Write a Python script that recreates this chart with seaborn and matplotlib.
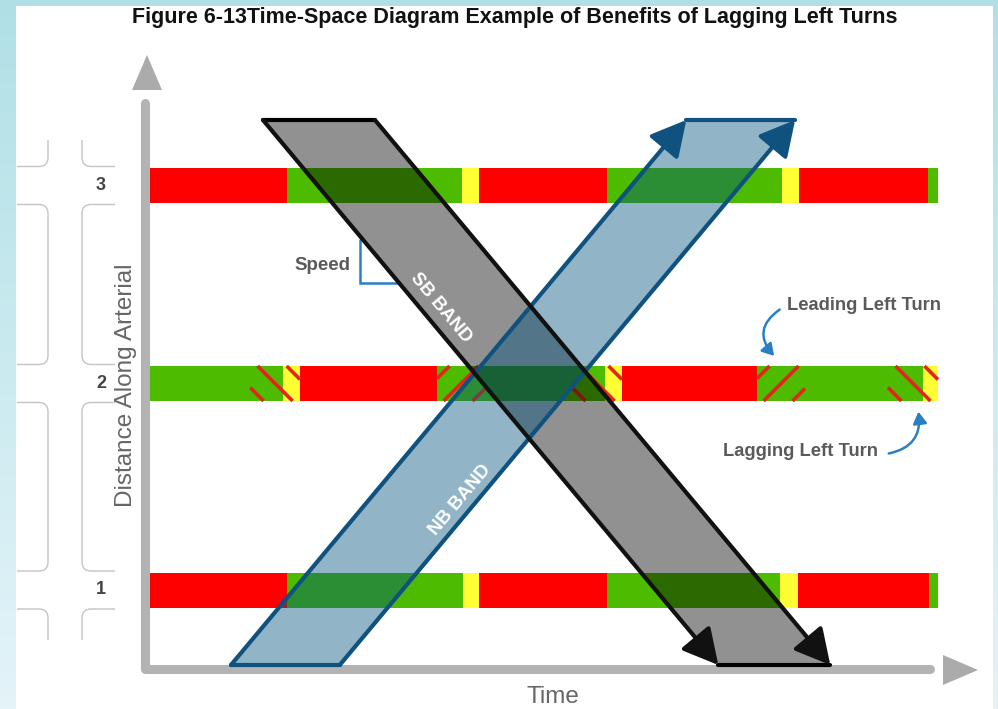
import numpy as np
import matplotlib.pyplot as plt
import seaborn as sns
from matplotlib.patches import Polygon, Rectangle, FancyArrowPatch, PathPatch
from matplotlib.path import Path
from matplotlib.collections import LineCollection

# ---- data ---------------------------------------------------------------
# three signals on a 100 s cycle, phase end times in seconds
intersection_names = ["1", "2", "3"]
intersection_dist = [75, 281.5, 479.5]   # distance along the arterial

states_1 = ["red", "green", "yellow", "red", "green", "yellow", "red", "green"]
ends_1 = [42.8, 97.8, 102.8, 142.8, 196.9, 202.5, 243.4, 246.25]
states_2 = ["green", "yellow", "red", "green", "yellow", "red", "green", "yellow"]
ends_2 = [41.6, 46.9, 89.7, 142.2, 147.5, 189.7, 241.6, 246.25]
states_3 = ["red", "green", "yellow", "red", "green", "yellow", "red", "green"]
ends_3 = [42.8, 97.5, 102.8, 142.8, 197.5, 202.8, 243.1, 246.25]

# protected left turn intervals at intersection 2
lead_start = [89.7, 189.7]
lead_end = [104.7, 204.7]
lag_start = [31.3, 131.9, 230.6]
lag_end = [46.9, 147.5, 246.25]

# progression bands
band_speed = 3.83          # distance per second
band_top = 545
sb_start, sb_width = 35.3, 35.0   # southbound enters at the top
nb_start, nb_width = 25.3, 34.0   # northbound enters at the bottom

# ---- layout ---------------------------------------------------------------
W, H = 998, 709
PX_PER_S = 3.2
X0, Y0 = 150, 665
BAR_H = 35


def tx(px):
    return (px - X0) / PX_PER_S


def dy(py):
    return Y0 - py


def clip_segment(p, q, a, b):
    """Cut a line segment to the time window [a, b]"""
    (t1, d1), (t2, d2) = sorted([p, q])
    lo, hi = max(t1, a), min(t2, b)
    if hi <= lo:
        return None
    f = lambda t: d1 + (d2 - d1) * (t - t1) / (t2 - t1)
    return [(lo, f(lo)), (hi, f(hi))]


RED, GREEN, YELLOW = "#ff0000", "#4dbb00", "#ffff33"
state_color = {"red": RED, "green": GREEN, "yellow": YELLOW}
AXIS_GRAY = "#b3b3b3"
TEXT_GRAY = "#5a5a5a"
NB_EDGE = "#0f5280"
LABEL_BLUE = "#2a7fc4"

sns.set_theme(style="white")
plt.rcParams["font.family"] = ["Liberation Sans", "DejaVu Sans"]

fig = plt.figure(figsize=(W / 100, H / 100), dpi=100)

# light blue frame
bg = fig.add_axes([0, 0, 1, 1])
top_c = np.array([176, 224, 230]) / 255
bot_c = np.array([228, 244, 249]) / 255
grad = np.linspace(0, 1, 256)[:, None, None] * (bot_c - top_c) + top_c
bg.imshow(np.repeat(grad, 2, axis=1), aspect="auto", extent=[0, 1, 0, 1])
bg.add_patch(Rectangle((16 / W, 0), (993 - 16) / W, (H - 6) / H,
                       transform=bg.transAxes, facecolor="white", edgecolor="none"))
bg.set_xlim(0, 1)
bg.set_ylim(0, 1)
bg.axis("off")

ax = fig.add_axes([0, 0, 1, 1])
ax.set_facecolor("none")
ax.set_xlim(tx(0), tx(W))
ax.set_ylim(dy(H), dy(0))
ax.axis("off")

# ---- signal bars ------------------------------------------------------------
for d, states, ends in zip(intersection_dist, [states_1, states_2, states_3],
                           [ends_1, ends_2, ends_3]):
    starts = [0] + ends[:-1]
    ax.broken_barh([(s, e - s) for s, e in zip(starts, ends)], (d - BAR_H / 2, BAR_H),
                   facecolors=[state_color[s] for s in states], edgecolor="none",
                   antialiased=False, zorder=2)

# left turn hatching at intersection 2 ('/' leading, '\' lagging)
d2 = intersection_dist[1]
spacing = 29 / PX_PER_S
half_dx = BAR_H / 2 / PX_PER_S
turns = [(a, b, 1) for a, b in zip(lead_start, lead_end)] + \
        [(a, b, -1) for a, b in zip(lag_start, lag_end)]
segs = []
for a, b, sgn in turns:
    c = (a + b) / 2
    for k in (-1, 0, 1):
        ct = c + k * spacing
        seg = clip_segment((ct - sgn * half_dx, d2 - BAR_H / 2),
                           (ct + sgn * half_dx, d2 + BAR_H / 2), a, b)
        if seg:
            segs.append(seg)
ax.add_collection(LineCollection(segs, colors="#e3261c", linewidths=2.6,
                                 capstyle="butt", zorder=3))

# ---- bands ------------------------------------------------------------------
travel = band_top / band_speed
sb = [(sb_start, band_top), (sb_start + sb_width, band_top),
      (sb_start + sb_width + travel, 0), (sb_start + travel, 0)]
nb = [(nb_start, 0), (nb_start + nb_width, 0),
      (nb_start + nb_width + travel, band_top), (nb_start + travel, band_top)]

ax.add_patch(Polygon(sb, closed=True, facecolor="black", alpha=0.43,
                     edgecolor="none", zorder=4))
ax.add_patch(Polygon(nb, closed=True, facecolor=(0, 83 / 255, 125 / 255), alpha=0.43,
                     edgecolor="none", zorder=5))

head = "-|>,head_length=0.45,head_width=0.24"
# NB outline
ax.plot([nb[0][0], nb[1][0]], [0, 0], color=NB_EDGE, lw=3, solid_capstyle="round", zorder=6)
ax.plot([nb[3][0], nb[2][0]], [band_top, band_top], color=NB_EDGE, lw=3,
        solid_capstyle="round", zorder=6)
for tail, tip in [(nb[0], nb[3]), (nb[1], nb[2])]:
    ax.annotate("", xy=tip, xytext=tail, zorder=6,
                arrowprops=dict(arrowstyle=head, mutation_scale=48, lw=3, color=NB_EDGE,
                                shrinkA=0, shrinkB=0))
# SB outline
ax.plot([sb[0][0], sb[1][0]], [band_top, band_top], color="black", lw=3,
        solid_capstyle="round", zorder=7)
ax.plot([sb[3][0], sb[2][0]], [0, 0], color="black", lw=3, solid_capstyle="round", zorder=7)
for tail, tip in [(sb[0], sb[3]), (sb[1], sb[2])]:
    ax.annotate("", xy=tip, xytext=tail, zorder=7,
                arrowprops=dict(arrowstyle=head, mutation_scale=48, lw=3, color="#111111",
                                shrinkA=0, shrinkB=0))

# speed triangle on the SB band edge
d_hi, d_lo = dy(240), dy(283)
t_hi = sb_start + (band_top - d_hi) / band_speed
t_lo = sb_start + (band_top - d_lo) / band_speed
ax.plot([t_hi - 1, t_hi - 1, t_lo], [d_hi, d_lo, d_lo], color=LABEL_BLUE, lw=1.8,
        solid_joinstyle="miter", zorder=3)

# band labels
ang = np.degrees(np.arctan(band_speed / PX_PER_S))
ax.text(tx(441), dy(308), "SB BAND", rotation=-ang, rotation_mode="anchor",
        ha="center", va="center", color="white", fontsize=13.5, fontweight="bold", zorder=8)
ax.text(tx(460), dy(500), "NB BAND", rotation=ang, rotation_mode="anchor",
        ha="center", va="center", color="white", fontsize=13.5, fontweight="bold", zorder=8)
ax.text(tx(350), dy(265), "Speed", ha="right", va="center", color=TEXT_GRAY,
        fontsize=13.5, fontweight="bold", zorder=8)

# left turn callouts
ax.text(tx(787), dy(306), "Leading Left Turn", ha="left", va="center", color=TEXT_GRAY,
        fontsize=13.2, fontweight="bold", zorder=8)
ax.text(tx(878), dy(451), "Lagging Left Turn", ha="right", va="center", color=TEXT_GRAY,
        fontsize=13.2, fontweight="bold", zorder=8)
ax.add_patch(FancyArrowPatch((tx(782), dy(308)), (tx(776), dy(358)),
                             connectionstyle="arc3,rad=0.6",
                             arrowstyle="-|>,head_length=0.5,head_width=0.3",
                             mutation_scale=14, lw=1.8, color=LABEL_BLUE, zorder=8))
ax.add_patch(FancyArrowPatch((tx(886), dy(454)), (tx(918), dy(409)),
                             connectionstyle="arc3,rad=0.5",
                             arrowstyle="-|>,head_length=0.5,head_width=0.3",
                             mutation_scale=14, lw=1.8, color=LABEL_BLUE, zorder=8))

# ---- axes arrows ---------------------------------------------------------
ax.plot([tx(145), tx(145), tx(930)], [dy(103), dy(669), dy(669)], color=AXIS_GRAY,
        lw=6.5, solid_capstyle="round", solid_joinstyle="round", zorder=1)
ax.add_patch(Polygon([(tx(147), dy(55)), (tx(162), dy(90)), (tx(132), dy(90))],
                     facecolor="#ababab", edgecolor="none", zorder=1))
ax.add_patch(Polygon([(tx(978), dy(670)), (tx(943), dy(655)), (tx(943), dy(685))],
                     facecolor="#ababab", edgecolor="none", zorder=1))

ax.text(tx(553), dy(697), "Time", ha="center", va="center", color="#666666", fontsize=17.5)
ax.text(tx(126), dy(385), "Distance Along Arterial", rotation=90, ha="center", va="center",
        color="#666666", fontsize=17.5)

# cross streets and intersection numbers
gap = 19
r = 9
for name, d in zip(intersection_names, intersection_dist):
    ax.text(tx(101), d, name, ha="center", va="center", color="#444444",
            fontsize=13, fontweight="bold")

gaps_px = sorted([Y0 - d for d in intersection_dist])
edges = [140]
for g in gaps_px:
    edges += [g - gap, g + gap]
edges.append(640)
blocks = list(zip(edges[0::2], edges[1::2]))
for i, (ytop, ybot) in enumerate(blocks):
    for xe, xo in [(48, 17), (82, 115)]:
        s = 1 if xo < xe else -1
        verts, codes = [], []
        if i == 0:
            verts.append((xe, ytop)); codes.append(Path.MOVETO)
        else:
            verts += [(xo, ytop), (xe - s * r, ytop), (xe, ytop), (xe, ytop + r)]
            codes += [Path.MOVETO, Path.LINETO, Path.CURVE3, Path.CURVE3]
        if i == len(blocks) - 1:
            verts.append((xe, ybot)); codes.append(Path.LINETO)
        else:
            verts += [(xe, ybot - r), (xe, ybot), (xe - s * r, ybot), (xo, ybot)]
            codes += [Path.LINETO, Path.CURVE3, Path.CURVE3, Path.LINETO]
        verts = [(tx(x), dy(y)) for x, y in verts]
        ax.add_patch(PathPatch(Path(verts, codes), facecolor="none", edgecolor="#c4c4c4",
                               lw=1.0, zorder=1))

fig.text(515 / W, 1 - 17 / H, "Figure 6-13Time-Space Diagram Example of Benefits of Lagging Left Turns",
         ha="center", va="center", fontsize=15.5, fontweight="bold", color="#111111")

fig.savefig("out.png", dpi=100)
